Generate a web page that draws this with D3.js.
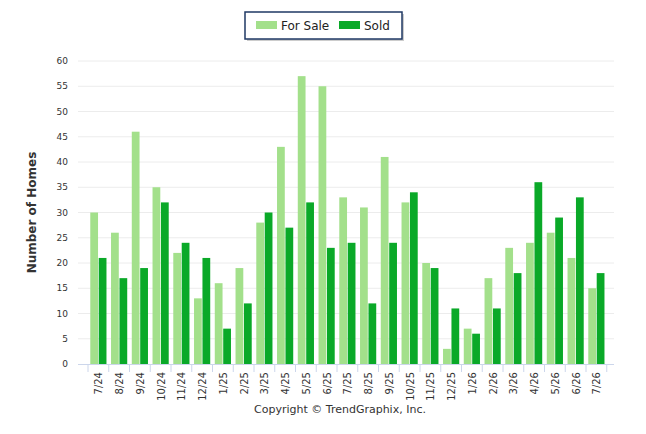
<!DOCTYPE html>
<html><head><meta charset="utf-8">
<script src="https://cdn.jsdelivr.net/npm/d3@7"></script>
<style>body{margin:0;background:#fff;font-family:"DejaVu Sans",sans-serif}</style>
</head><body><div id="chart"></div>
<script>
var months = ["7/24","8/24","9/24","10/24","11/24","12/24","1/25","2/25","3/25","4/25","5/25","6/25","7/25","8/25","9/25","10/25","11/25","12/25","1/26","2/26","3/26","4/26","5/26","6/26","7/26"];
var forSale = [30,26,46,35,22,13,16,19,28,43,57,55,33,31,41,32,20,3,7,17,23,24,26,21,15];
var sold = [21,17,19,32,24,21,7,12,30,27,32,23,24,12,24,34,19,11,6,11,18,36,29,33,18];
var yTicks = d3.range(0, 61, 5);
var seriesNames = ["For Sale", "Sold"];
var colors = ["#a3e08b", "#0aa928"];

var svgWidth = 646, svgHeight = 434;
var margin = {top: 61, right: 32, bottom: 70, left: 78};
var width = svgWidth - margin.left - margin.right;
var height = svgHeight - margin.top - margin.bottom;

var svg = d3.select("#chart").append("svg")
    .attr("width", svgWidth).attr("height", svgHeight);
var g = svg.append("g").attr("transform", `translate(${margin.left},${margin.top})`);

var x = d3.scaleBand().domain(months).range([10, 528.75]).paddingInner(0.22).paddingOuter(0.11);
var x1 = d3.scaleBand().domain([0, 1]).range([0, x.bandwidth()]).paddingInner(0.08);
var y = d3.scaleLinear().domain([0, 60]).range([height, 0]);

// grid
g.selectAll(".grid").data(yTicks.slice(1)).enter().append("line")
    .attr("x1", 0).attr("x2", width)
    .attr("y1", d => y(d)).attr("y2", d => y(d))
    .attr("stroke", "#ececec");

g.selectAll(".ylab").data(yTicks).enter().append("text")
    .attr("x", -10).attr("y", d => y(d) + 3)
    .attr("text-anchor", "end").attr("font-size", 9).attr("fill", "#333")
    .text(d => d);

var groups = g.selectAll(".grp").data(months).enter().append("g")
    .attr("transform", d => `translate(${x(d)},0)`);
[forSale, sold].forEach(function(arr, s) {
    groups.append("rect")
        .attr("x", x1(s)).attr("width", x1.bandwidth())
        .attr("y", (d, i) => y(arr[i]))
        .attr("height", (d, i) => height - y(arr[i]))
        .attr("fill", colors[s]);
});

// x axis
g.append("line").attr("x1", 0).attr("x2", width).attr("y1", height + 0.5).attr("y2", height + 0.5).attr("stroke", "#ccd6eb");
var step = x.step();
var tickPos = months.map(d => x(d) - step * 0.11).concat([x(months[months.length - 1]) + x.bandwidth() + step * 0.11]);
g.selectAll(".tick").data(tickPos).enter().append("line")
    .attr("x1", d => d).attr("x2", d => d)
    .attr("y1", height).attr("y2", height + 8).attr("stroke", "#ccd6eb");
g.selectAll(".xlab").data(months).enter().append("text")
    .attr("transform", d => `translate(${x(d) + x.bandwidth() / 2 + 4},${height + 8}) rotate(-90)`)
    .attr("text-anchor", "end").attr("font-size", 10).attr("fill", "#333")
    .text(d => d);

g.append("text")
    .attr("transform", `translate(-42,${height / 2}) rotate(-90)`)
    .attr("text-anchor", "middle").attr("font-size", 12).attr("font-weight", "bold").attr("fill", "#333")
    .text("Number of Homes");

svg.append("text").attr("x", 340).attr("y", 413).attr("text-anchor", "middle")
    .attr("font-size", 11).attr("fill", "#333").text("Copyright \u00A9 TrendGraphix, Inc.");

// legend
var lg = svg.append("g").attr("transform", "translate(245,12)");
lg.append("rect").attr("x", 2).attr("y", 2).attr("width", 157).attr("height", 27).attr("fill", "#999").attr("opacity", 0.5);
lg.append("rect").attr("x", 0).attr("y", 0).attr("width", 157).attr("height", 27).attr("fill", "#fff").attr("stroke", "#1f3864").attr("stroke-width", 1.5);
var items = lg.selectAll(".li").data(seriesNames).enter().append("g")
    .attr("transform", (d, i) => `translate(${i === 0 ? 11 : 94},0)`);
items.append("rect").attr("y", 9).attr("width", 21).attr("height", 8).attr("fill", (d, i) => colors[i]);
items.append("text").attr("x", 25).attr("y", 17.5).attr("font-size", 12).attr("fill", "#222").text(d => d);
</script></body></html>
